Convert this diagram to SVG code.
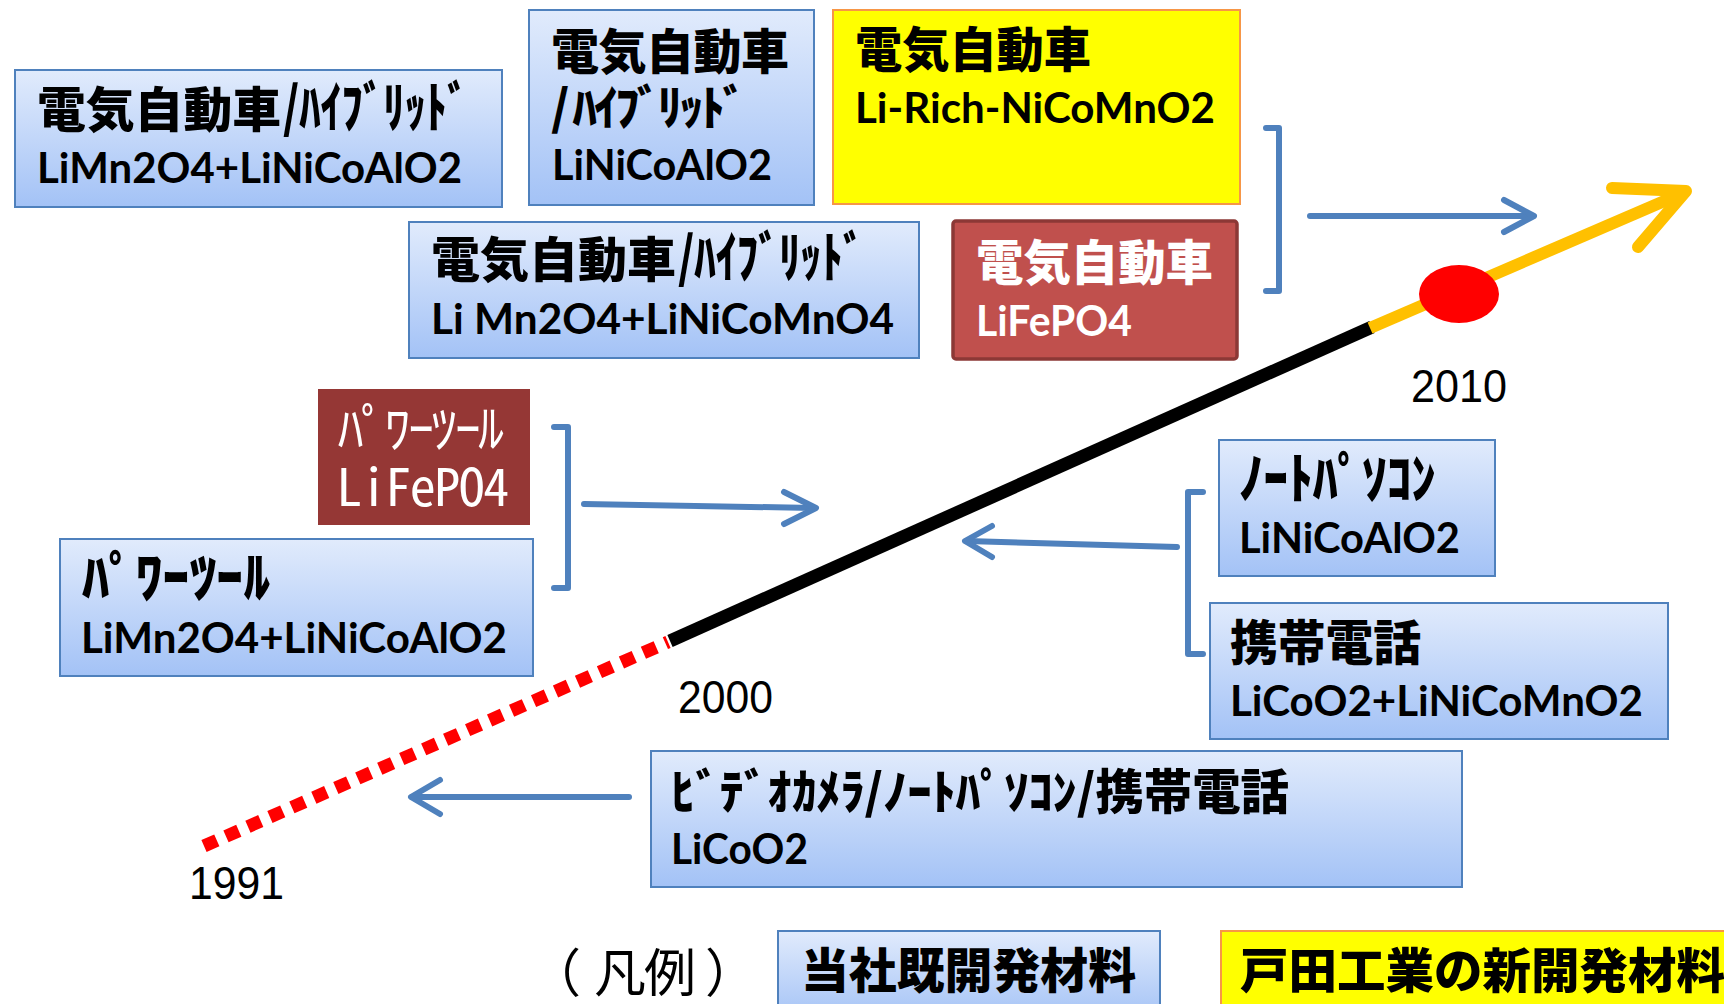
<svg xmlns="http://www.w3.org/2000/svg" width="1724" height="1004" viewBox="0 0 1724 1004">
<defs>
<linearGradient id="blueGrad" x1="0" y1="0" x2="0" y2="1">
<stop offset="0" stop-color="#E1EBFC"/>
<stop offset="1" stop-color="#A3C2F6"/>
</linearGradient>
</defs>
<style>
.box{fill:url(#blueGrad);stroke:#4F81BD;stroke-width:2}
.ybox{fill:#FFFF00;stroke:#F79646;stroke-width:2}
.jp{font-family:"Noto Sans CJK JP","Noto Sans CJK SC",sans-serif;font-weight:900;font-size:48px;fill:#000}
.kk{font-size:55px}
.en{font-family:Lato,"Liberation Sans",sans-serif;font-weight:700;font-size:42px;fill:#000}
.w{fill:#FFFFFF}
.yr{font-family:"Liberation Sans",Arial,sans-serif;font-size:47px;fill:#000}
.conn{fill:none;stroke:#4F81BD;stroke-width:6;stroke-linecap:round;stroke-linejoin:round}
</style>
<rect width="1724" height="1004" fill="#FFFFFF"/>

<g id="connectors">
<line x1="204" y1="846" x2="668" y2="642" stroke="#FF0000" stroke-width="13" stroke-dasharray="14 10"/>
<line x1="670" y1="641" x2="1372" y2="327" stroke="#000000" stroke-width="13"/>
<line x1="1370" y1="328" x2="1683" y2="193" stroke="#FFC000" stroke-width="12"/>
<polyline points="1612,188 1686,191 1638,247" fill="none" stroke="#FFC000" stroke-width="12" stroke-linecap="round" stroke-linejoin="round"/>
<ellipse cx="1459" cy="294" rx="40" ry="29" fill="#FF0000"/>
<path class="conn" d="M1266,128 H1279 V291 H1266" stroke-linecap="butt"/>
<line class="conn" x1="1310" y1="216" x2="1532" y2="216"/>
<polyline class="conn" points="1504,200 1534,216 1504,232"/>
<path class="conn" d="M554,427 H568 V588 H554" stroke-linecap="butt"/>
<line class="conn" x1="584" y1="504" x2="814" y2="508"/>
<polyline class="conn" points="784,492 816,508 784,524"/>
<path class="conn" d="M1203,492 H1188 V654 H1203" stroke-linecap="butt"/>
<line class="conn" x1="1177" y1="547" x2="967" y2="541"/>
<polyline class="conn" points="992,526 965,541 992,557"/>
<line class="conn" x1="629" y1="797" x2="412" y2="797" stroke-width="7" stroke-linecap="butt"/>
<polyline class="conn" points="440,780 411,797 440,814"/>
</g>

<g id="year-2010"><text class="yr" x="1411" y="402" textLength="96" lengthAdjust="spacingAndGlyphs">2010</text></g>
<g id="year-2000"><text class="yr" x="678" y="713" textLength="95" lengthAdjust="spacingAndGlyphs">2000</text></g>
<g id="year-1991"><text class="yr" x="189" y="899" textLength="95" lengthAdjust="spacingAndGlyphs">1991</text></g>

<g id="node-ev-hybrid-1">
<rect class="box" x="15" y="70" width="487" height="137"/>
<text x="37" y="127"><tspan class="jp" textLength="244" lengthAdjust="spacingAndGlyphs">電気自動車</tspan><tspan class="jp kk" x="283" textLength="185" lengthAdjust="spacingAndGlyphs">/ﾊｲﾌﾞﾘｯﾄﾞ</tspan><tspan class="en" x="37" y="183" textLength="425" lengthAdjust="spacingAndGlyphs">LiMn2O4+LiNiCoAlO2</tspan></text>
</g>

<g id="node-ev-hybrid-2">
<rect class="box" x="529" y="10" width="285" height="195"/>
<text class="jp" font-size="51" x="551 598.5 646 693.5 741 551 572.4 593.8 615.2 636.6 658 679.4 700.8 722.2" y="69 69 69 69 69 125 125 125 125 125 125 125 125 125">電気自動車/ﾊｲﾌﾞﾘｯﾄﾞ</text>
<text class="en" x="552" y="180" textLength="220" lengthAdjust="spacingAndGlyphs">LiNiCoAlO2</text>
</g>

<g id="node-ev-hybrid-3">
<rect class="box" x="409" y="222" width="510" height="136"/>
<text x="431" y="277"><tspan class="jp" textLength="245" lengthAdjust="spacingAndGlyphs">電気自動車</tspan><tspan class="jp kk" x="678" textLength="186" lengthAdjust="spacingAndGlyphs">/ﾊｲﾌﾞﾘｯﾄﾞ</tspan><tspan class="en" x="431" y="334" textLength="463" lengthAdjust="spacingAndGlyphs">Li Mn2O4+LiNiCoMnO4</tspan></text>
</g>

<g id="node-ev-lirich">
<rect class="ybox" x="833" y="10" width="407" height="194"/>
<text x="855" y="67"><tspan class="jp" textLength="236" lengthAdjust="spacingAndGlyphs">電気自動車</tspan><tspan class="en" x="855" y="123" textLength="360" lengthAdjust="spacingAndGlyphs">Li-Rich-NiCoMnO2</tspan></text>
</g>

<g id="node-ev-lifepo4">
<rect x="953" y="221" width="284" height="138" rx="3" fill="#C0504D" stroke="#8C3836" stroke-width="3.5"/>
<text x="976" y="280"><tspan class="jp w" textLength="237" lengthAdjust="spacingAndGlyphs">電気自動車</tspan><tspan class="en w" x="976" y="336" textLength="156" lengthAdjust="spacingAndGlyphs">LiFePO4</tspan></text>
</g>

<g id="node-powertool-lifepo4">
<rect x="318" y="389" width="212" height="136" fill="#953735"/>
<text font-family="'Noto Sans Mono CJK JP','Noto Sans CJK JP',sans-serif" font-weight="500" font-size="52" fill="#FFFFFF" text-anchor="middle" x="350.7 374.1 397.5 420.9 444.3 467.7 491.1 349.3 373.8 398.3 422.8 447.3 471.8 496.3" y="448 448 448 448 448 448 448 506 506 506 506 506 506 506">ﾊﾟﾜｰﾂｰﾙLiFePO4</text>
</g>

<g id="node-powertool">
<rect class="box" x="60" y="539" width="473" height="137"/>
<text x="82" y="597"><tspan class="jp kk" textLength="188" lengthAdjust="spacingAndGlyphs">ﾊﾟﾜｰﾂｰﾙ</tspan><tspan class="en" x="81" y="653" textLength="426" lengthAdjust="spacingAndGlyphs">LiMn2O4+LiNiCoAlO2</tspan></text>
</g>

<g id="node-notepc">
<rect class="box" x="1219" y="440" width="276" height="136"/>
<text x="1239" y="498"><tspan class="jp kk" textLength="197" lengthAdjust="spacingAndGlyphs">ﾉｰﾄﾊﾟｿｺﾝ</tspan><tspan class="en" x="1239" y="553" textLength="221" lengthAdjust="spacingAndGlyphs">LiNiCoAlO2</tspan></text>
</g>

<g id="node-phone">
<rect class="box" x="1210" y="603" width="458" height="136"/>
<text x="1230" y="660"><tspan class="jp" textLength="191" lengthAdjust="spacingAndGlyphs">携帯電話</tspan><tspan class="en" x="1230" y="716" textLength="413" lengthAdjust="spacingAndGlyphs">LiCoO2+LiNiCoMnO2</tspan></text>
</g>

<g id="node-video">
<rect class="box" x="651" y="751" width="811" height="136"/>
<text x="671" y="809"><tspan class="jp" font-size="52" textLength="618" lengthAdjust="spacingAndGlyphs">ﾋﾞﾃﾞｵｶﾒﾗ/ﾉｰﾄﾊﾟｿｺﾝ/携帯電話</tspan><tspan class="en" x="671" y="864" textLength="137" lengthAdjust="spacingAndGlyphs">LiCoO2</tspan></text>
</g>

<g id="legend">
<text x="529 594 644 705" y="992" font-family="'Noto Sans CJK JP',sans-serif" font-size="52" fill="#000">（凡例）</text>
<rect class="box" x="778" y="931" width="382" height="90"/>
<text class="jp" x="801" y="988" textLength="335" lengthAdjust="spacingAndGlyphs">当社既開発材料</text>
<rect class="ybox" x="1221" y="931" width="520" height="90"/>
<text class="jp" x="1240" y="988" textLength="485" lengthAdjust="spacingAndGlyphs">戸田工業の新開発材料</text>
</g>
</svg>
